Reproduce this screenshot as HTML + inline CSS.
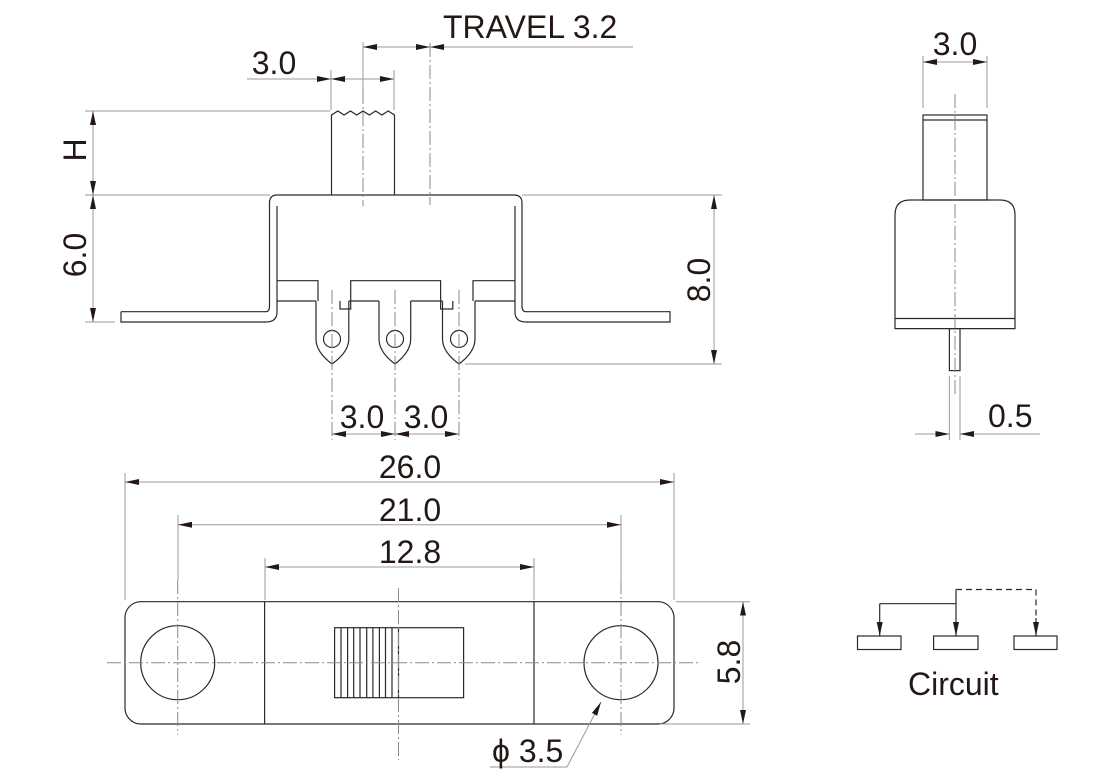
<!DOCTYPE html>
<html><head><meta charset="utf-8"><style>
html,body{margin:0;padding:0;background:#fff;}
svg{display:block;}
text{font-family:"Liberation Sans",sans-serif;fill:#231815;font-size:32px;}
.o{fill:none;stroke:#2a2a2a;stroke-width:1.2;}
.g{fill:none;stroke:#9a9a9a;stroke-width:1;}
.c{fill:none;stroke:#8a8a8a;stroke-width:1;stroke-dasharray:14 3 2 3;}
.a{fill:#231815;stroke:none;}
</style></head><body>
<svg width="1120" height="784" viewBox="0 0 1120 784" xmlns="http://www.w3.org/2000/svg">
<defs>
<marker id="ar" markerWidth="14" markerHeight="8" refX="14" refY="4" orient="auto-start-reverse" markerUnits="userSpaceOnUse"><path d="M0,1 L14,4 L0,7 Z" class="a"/></marker>
</defs>

<!-- ===== TOP VIEW ===== -->
<path class="o" d="M331.5,195 V115 l6.3,-4 6.3,4 6.3,-4 6.3,4 6.3,-4 6.3,4 6.3,-4 6.3,4 6.3,-4 6.3,4 V195"/>
<path class="o" d="M121,311.7 H266 Q269.5,311.7 269.5,306 V203 Q269.5,195 277,195 H514 Q522,195 522,203 V306 Q522,311.7 526,311.7 H670 V322 H526 Q515,322 515,312 V206"/>
<path class="o" d="M121,311.7 V322 H266 Q277,322 277,312 V206"/>
<path class="o" d="M277,280.7 H318 V301 M350.7,301 V280.7 H440.6 V301 M473,301 V280.7 H515"/>
<path class="o" d="M277,301 H316 M348.8,301 H379 M410.7,301 H442.5 M475,301 H515"/>
<path class="o" d="M316,301 V339 Q316,352 332,364 Q348.8,352 348.8,339 V301"/>
<path class="o" d="M340,301 V309 H350.7 V301"/>
<path class="o" d="M379,301 V339 Q379,352 395,364 Q410.7,352 410.7,339 V301"/>
<path class="o" d="M442.5,301 V339 Q442.5,352 459,364 Q475,352 475,339 V301"/>
<path class="o" d="M440.6,301 V309 H452.8 V301"/>
<circle class="o" cx="332" cy="339" r="8.5"/>
<circle class="o" cx="395" cy="339" r="8.5"/>
<circle class="o" cx="459" cy="339" r="8.5"/>
<line class="c" x1="363" y1="90" x2="363" y2="206"/>
<line class="c" x1="332" y1="290" x2="332" y2="440"/>
<line class="c" x1="395" y1="290" x2="395" y2="440"/>
<line class="c" x1="459" y1="290" x2="459" y2="440"/>
<line class="c" x1="430" y1="43" x2="430" y2="205"/>
<line class="g" x1="85" y1="111" x2="330" y2="111"/>
<line class="g" x1="85" y1="195" x2="270" y2="195"/>
<line class="g" x1="522" y1="195" x2="722" y2="195"/>
<line class="g" x1="85" y1="322" x2="115" y2="322"/>
<line class="g" x1="465" y1="364" x2="722" y2="364"/>
<line class="g" x1="331" y1="70" x2="331" y2="110"/>
<line class="g" x1="394" y1="70" x2="394" y2="110"/>
<line class="g" x1="363" y1="42" x2="363" y2="90"/>
<line class="g" x1="93" y1="111" x2="93" y2="195" marker-start="url(#ar)" marker-end="url(#ar)"/>
<line class="g" x1="93" y1="195" x2="93" y2="322" marker-start="url(#ar)" marker-end="url(#ar)"/>
<text transform="translate(86,150) rotate(-90)" text-anchor="middle">H</text>
<text transform="translate(86,255) rotate(-90)" text-anchor="middle">6.0</text>
<line class="g" x1="714" y1="195" x2="714" y2="364" marker-start="url(#ar)" marker-end="url(#ar)"/>
<text transform="translate(710,280) rotate(-90)" text-anchor="middle">8.0</text>
<line class="g" x1="247" y1="79" x2="331" y2="79" marker-end="url(#ar)"/>
<line class="g" x1="331" y1="79" x2="394" y2="79" marker-start="url(#ar)" marker-end="url(#ar)"/>
<text x="274" y="74" text-anchor="middle">3.0</text>
<line class="g" x1="363" y1="47" x2="430" y2="47" marker-start="url(#ar)" marker-end="url(#ar)"/>
<line class="g" x1="430" y1="47" x2="633" y2="47" marker-start="url(#ar)"/>
<text x="443" y="38">TRAVEL 3.2</text>
<line class="g" x1="332" y1="434" x2="395" y2="434" marker-start="url(#ar)" marker-end="url(#ar)"/>
<line class="g" x1="395" y1="434" x2="459" y2="434" marker-start="url(#ar)" marker-end="url(#ar)"/>
<text x="362" y="428" text-anchor="middle">3.0</text>
<text x="426" y="428" text-anchor="middle">3.0</text>

<!-- ===== SIDE VIEW ===== -->
<rect class="o" x="923" y="115" width="64" height="85"/>
<line class="o" x1="923" y1="120" x2="987" y2="120"/>
<path class="o" d="M895,328.6 V215 Q895,200 910,200 H1000 Q1015,200 1015,215 V328.6 Z"/>
<line class="o" x1="895" y1="318.5" x2="1015" y2="318.5"/>
<rect class="o" x="949.4" y="328.6" width="10.6" height="42"/>
<line class="c" x1="955" y1="94" x2="955" y2="395"/>
<line class="g" x1="923" y1="56" x2="923" y2="108"/>
<line class="g" x1="987" y1="56" x2="987" y2="108"/>
<line class="g" x1="923" y1="62" x2="987" y2="62" marker-start="url(#ar)" marker-end="url(#ar)"/>
<text x="955" y="55" text-anchor="middle">3.0</text>
<line class="g" x1="949.4" y1="376" x2="949.4" y2="440"/>
<line class="g" x1="960" y1="376" x2="960" y2="440"/>
<line class="g" x1="915" y1="434" x2="949.4" y2="434" marker-end="url(#ar)"/>
<line class="g" x1="1040" y1="434" x2="960" y2="434" marker-end="url(#ar)"/>
<text x="988" y="427">0.5</text>

<!-- ===== BOTTOM VIEW ===== -->
<rect class="o" x="125" y="601.7" width="549" height="122.3" rx="16"/>
<line class="o" x1="264.6" y1="601.7" x2="264.6" y2="724"/>
<line class="o" x1="534" y1="601.7" x2="534" y2="724"/>
<circle class="o" cx="177.7" cy="662.7" r="37"/>
<circle class="o" cx="621" cy="662.7" r="37"/>
<rect class="o" x="334.6" y="627.7" width="129" height="70"/>
<path class="o" stroke-width="1" d="M341,627.7V697.7M347.6,627.7V697.7M353.7,627.7V697.7M360,627.7V697.7M366.7,627.7V697.7M372.9,627.7V697.7M379.4,627.7V697.7M385.5,627.7V697.7M392,627.7V697.7M398.5,627.7V697.7"/>
<line class="c" x1="107" y1="662.7" x2="700" y2="662.7"/>
<line class="c" x1="398.5" y1="588" x2="398.5" y2="760"/>
<line class="c" x1="177.7" y1="580" x2="177.7" y2="735"/>
<line class="c" x1="621" y1="580" x2="621" y2="735"/>
<line class="g" x1="567" y1="767" x2="601" y2="702" marker-end="url(#ar)"/>
<line class="g" x1="490" y1="767" x2="567" y2="767"/>
<text x="492" y="762">ϕ 3.5</text>
<line class="g" x1="125" y1="473" x2="125" y2="600"/>
<line class="g" x1="674" y1="473" x2="674" y2="600"/>
<line class="g" x1="178" y1="515" x2="178" y2="580"/>
<line class="g" x1="621" y1="515" x2="621" y2="580"/>
<line class="g" x1="265" y1="558" x2="265" y2="600"/>
<line class="g" x1="534" y1="558" x2="534" y2="600"/>
<line class="g" x1="125" y1="482" x2="674" y2="482" marker-start="url(#ar)" marker-end="url(#ar)"/>
<line class="g" x1="178" y1="524.7" x2="621" y2="524.7" marker-start="url(#ar)" marker-end="url(#ar)"/>
<line class="g" x1="265" y1="567" x2="534" y2="567" marker-start="url(#ar)" marker-end="url(#ar)"/>
<text x="410" y="478" text-anchor="middle">26.0</text>
<text x="410" y="521" text-anchor="middle">21.0</text>
<text x="410" y="563" text-anchor="middle">12.8</text>
<line class="g" x1="676" y1="601.7" x2="750" y2="601.7"/>
<line class="g" x1="660" y1="724" x2="750" y2="724"/>
<line class="g" x1="743" y1="601.7" x2="743" y2="724" marker-start="url(#ar)" marker-end="url(#ar)"/>
<text transform="translate(740,662) rotate(-90)" text-anchor="middle">5.8</text>

<!-- ===== CIRCUIT ===== -->
<rect class="o" x="857.5" y="636" width="43.5" height="13.5"/>
<rect class="o" x="933.6" y="636" width="44.4" height="13.5"/>
<rect class="o" x="1014" y="636" width="43" height="13.5"/>
<path class="o" d="M956,589.5 V603.7 H879.7"/>
<line class="o" x1="879.7" y1="603.7" x2="879.7" y2="636" marker-end="url(#ar)"/>
<line class="o" x1="956" y1="603.7" x2="956" y2="636" marker-end="url(#ar)"/>
<path class="o" stroke-dasharray="6 4" d="M956,589.5 H1036 V620"/>
<line class="o" x1="1036" y1="618" x2="1036" y2="636" marker-end="url(#ar)"/>
<text x="908" y="695" font-size="30">Circuit</text>
</svg>
</body></html>
